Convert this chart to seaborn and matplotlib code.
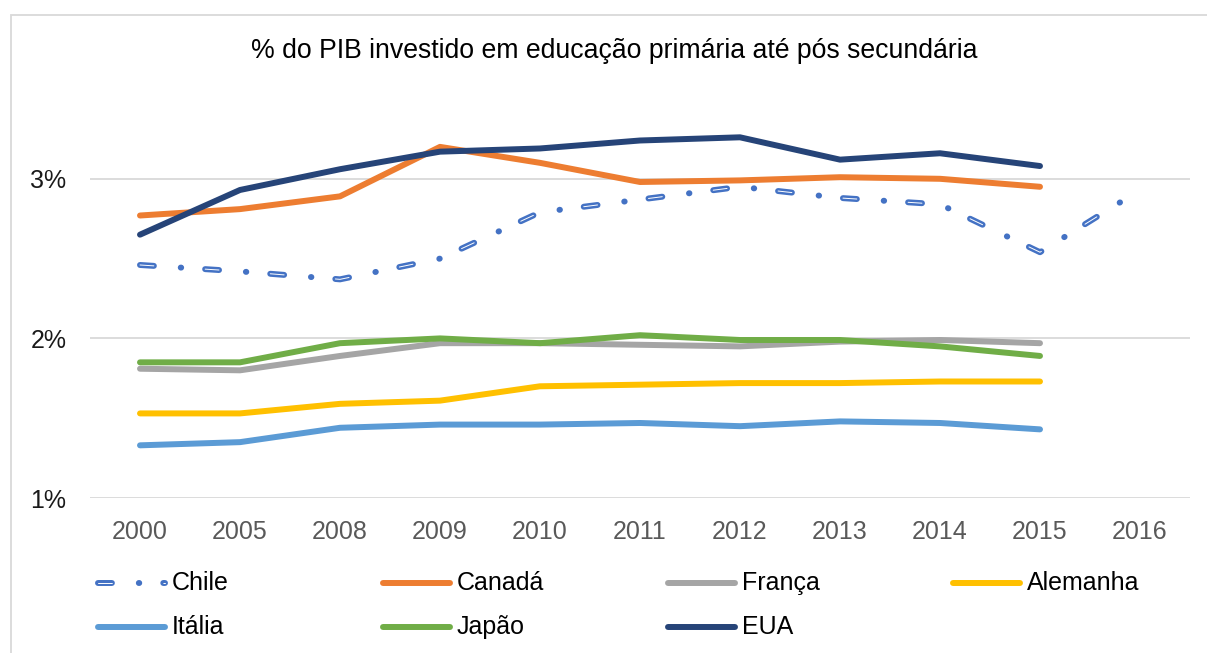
import numpy as np
import pandas as pd
import matplotlib
matplotlib.use('Agg')
import matplotlib.pyplot as plt
import seaborn as sns
from matplotlib.lines import Line2D
from matplotlib.patches import Rectangle

anos = ['2000', '2005', '2008', '2009', '2010', '2011', '2012', '2013', '2014', '2015', '2016']
chile = [2.46, 2.42, 2.37, 2.50, 2.79, 2.87, 2.95, 2.88, 2.84, 2.54, 2.93]
canada = [2.77, 2.81, 2.89, 3.20, 3.10, 2.98, 2.99, 3.01, 3.00, 2.95, np.nan]
franca = [1.81, 1.80, 1.89, 1.97, 1.97, 1.96, 1.95, 1.98, 1.99, 1.97, np.nan]
alemanha = [1.53, 1.53, 1.59, 1.61, 1.70, 1.71, 1.72, 1.72, 1.73, 1.73, np.nan]
italia = [1.33, 1.35, 1.44, 1.46, 1.46, 1.47, 1.45, 1.48, 1.47, 1.43, np.nan]
japao = [1.85, 1.85, 1.97, 2.00, 1.97, 2.02, 1.99, 1.99, 1.95, 1.89, np.nan]
eua = [2.65, 2.93, 3.06, 3.17, 3.19, 3.24, 3.26, 3.12, 3.16, 3.08, np.nan]

paises = ['Chile', 'Canadá', 'França', 'Alemanha', 'Itália', 'Japão', 'EUA']
valores = [chile, canada, franca, alemanha, italia, japao, eua]
cores = ['#4472C4', '#ED7D31', '#A5A5A5', '#FFC000', '#5B9BD5', '#70AD47', '#264478']

df = pd.DataFrame({'ano': anos})
for p, v in zip(paises, valores):
    df[p] = v
df = df.melt(id_vars='ano', var_name='pais', value_name='valor').dropna()

sns.set_style('white')
plt.rcParams['font.family'] = ['Liberation Sans', 'DejaVu Sans']
plt.rcParams['lines.scale_dashes'] = False

W, H = 1207, 653
fig = plt.figure(figsize=(W / 100, H / 100), dpi=100)
ax = fig.add_axes([90 / W, 1 - 498 / H, 1100 / W, 399 / H])

lw = 4.3
chile_ls = (0, (10, 19.4, 0.3, 17.3))
core_ls = (0, (10, 37.0))
core_lw = 0.7

for p, c in zip(paises, cores):
    sub = df[df['pais'] == p]
    if p == 'Chile':
        sns.lineplot(data=sub, x='ano', y='valor', ax=ax, color=c, lw=lw,
                     linestyle=chile_ls, dash_capstyle='round', legend=False)
        sns.lineplot(data=sub, x='ano', y='valor', ax=ax, color='white', lw=core_lw,
                     linestyle=core_ls, dash_capstyle='round', legend=False)
    else:
        sns.lineplot(data=sub, x='ano', y='valor', ax=ax, color=c, lw=lw,
                     solid_capstyle='round', solid_joinstyle='round', legend=False)

ax.set_xlim(-0.5, len(anos) - 0.5)
ax.set_ylim(1, 3.5)
ax.set_yticks([1, 2, 3])
ax.set_yticklabels(['1%', '2%', '3%'])
ax.grid(axis='y', color='#D9D9D9', lw=1.3)
ax.grid(axis='x', visible=False)
ax.set_axisbelow(True)
for s in ax.spines.values():
    s.set_visible(False)
ax.set_xlabel('')
ax.set_ylabel('')
ax.tick_params(axis='x', length=0, pad=16, labelsize=18, labelcolor='#595959')
ax.tick_params(axis='y', length=0, pad=17, labelsize=18, labelcolor='#1a1a1a')

fig.text(614 / W, 1 - 51 / H, '% do PIB investido em educação primária até pós secundária',
         ha='center', va='center', fontsize=19.2, color='#000000')

# legenda manual, 4 colunas
for i, (p, c) in enumerate(zip(paises, cores)):
    col, row = i % 4, i // 4
    x0 = (98 + col * 285) / W
    x1 = (165 + col * 285) / W
    y = 1 - (583 + row * 44) / H
    if p == 'Chile':
        fig.add_artist(Line2D([x0, x1], [y, y], transform=fig.transFigure, color=c,
                              lw=lw, linestyle=chile_ls, dash_capstyle='round'))
        fig.add_artist(Line2D([x0, x1], [y, y], transform=fig.transFigure, color='white',
                              lw=core_lw, linestyle=core_ls, dash_capstyle='round'))
    else:
        fig.add_artist(Line2D([x0, x1], [y, y], transform=fig.transFigure, color=c,
                              lw=lw, solid_capstyle='round'))
    fig.text((172 + col * 285) / W, y, p, ha='left', va='center', fontsize=18, color='#000000')

fig.add_artist(Rectangle((11 / W, -0.1), 1.2, 1.1 - 15 / H, transform=fig.transFigure,
                         fill=False, edgecolor='#D9D9D9', lw=1.3))

fig.savefig('out.png', dpi=100)
